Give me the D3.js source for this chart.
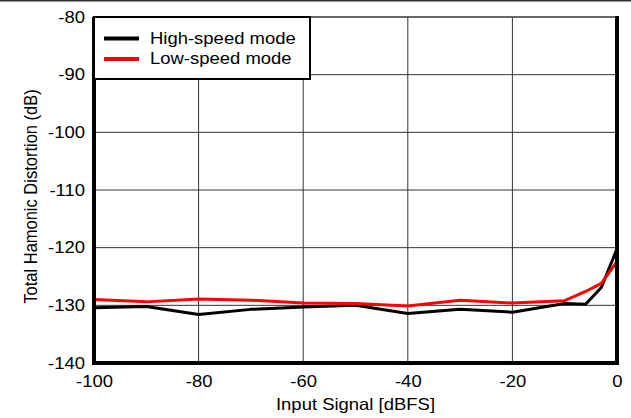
<!DOCTYPE html>
<meta charset="utf-8">
<style>
 body { margin: 0; background: #fff; }
 text { font-family: "Liberation Sans", Arial, sans-serif; fill: #000; }
 .grid line { stroke: #333; stroke-width: 1; }
</style>
<body>
<svg width="631" height="418"></svg>
<script src="https://d3js.org/d3.v7.min.js"></script>
<script>

 var inputLevel = [-100, -90, -80, -70, -60, -50, -40, -30, -20, -10, -6, -3, 0];
 var highSpeed = [-130.4, -130.2, -131.6, -130.7, -130.3, -130.0, -131.4, -130.7, -131.2, -129.7, -129.8, -126.9, -120.2];
 var lowSpeed  = [-129.0, -129.4, -128.9, -129.1, -129.6, -129.7, -130.1, -129.1, -129.6, -129.2, -127.6, -126.2, -122.4];
 var xTicks = [-100, -80, -60, -40, -20, 0];
 var yTicks = [-80, -90, -100, -110, -120, -130, -140];

 var svg = d3.select("svg"),
     margin = {top: 17, right: 14, bottom: 55, left: 94},
     width = 631 - margin.left - margin.right,
     height = 418 - margin.top - margin.bottom;

 var fontSize = 16.5,
     wide = "scale(1.12,1)"; // the original lettering is a bit wider than Arial

 // thin rule across the top of the image
 svg.append("line")
    .attr("x1", 0).attr("x2", 631)
    .attr("y1", 0.5).attr("y2", 0.5)
    .style("stroke", "#333").style("stroke-width", 2);

 var x = d3.scaleLinear().domain([-100, 0]).range([0, width]);
 var y = d3.scaleLinear().domain([-140, -80]).range([height, 0]);

 var g = svg.append("g")
    .attr("transform", "translate(" + margin.left + "," + margin.top + ")");

 // grid
 var grid = g.append("g").attr("class", "grid");
 grid.selectAll(".vx").data(xTicks).enter().append("line")
     .attr("x1", d => x(d)).attr("x2", d => x(d))
     .attr("y1", 0).attr("y2", height);
 grid.selectAll(".hy").data(yTicks).enter().append("line")
     .attr("x1", 0).attr("x2", width)
     .attr("y1", d => y(d)).attr("y2", d => y(d));

 // axes (labels only, frame drawn separately)
 var xAxis = g.append("g")
    .attr("transform", "translate(0," + height + ")")
    .call(d3.axisBottom(x).tickValues(xTicks).tickSize(0).tickPadding(12).tickFormat(d => String(d)));
 xAxis.select(".domain").remove();

 var yAxis = g.append("g")
    .call(d3.axisLeft(y).tickValues(yTicks).tickSize(0).tickPadding(8).tickFormat(d => String(d)));
 yAxis.select(".domain").remove();

 g.selectAll(".tick text")
  .attr("font-family", "Liberation Sans, Arial, sans-serif")
  .attr("font-size", fontSize)
  .attr("fill", "#000")
  .attr("transform", wide);

 // series
 var line = d3.line()
    .x((d, i) => x(inputLevel[i]))
    .y(d => y(d));

 g.append("path").datum(highSpeed)
  .attr("d", line)
  .style("fill", "none").style("stroke", "#000").style("stroke-width", 3)
  .style("stroke-linejoin", "round");
 g.append("path").datum(lowSpeed)
  .attr("d", line)
  .style("fill", "none").style("stroke", "#ff0000").style("stroke-width", 3)
  .style("stroke-linejoin", "round");

 // frame
 g.append("line").attr("x1", 0).attr("x2", width).attr("y1", 0).attr("y2", 0)
  .style("stroke", "#666").style("stroke-width", 2);
 g.append("line").attr("x1", width).attr("x2", width).attr("y1", -1).attr("y2", height + 2)
  .style("stroke", "#000").style("stroke-width", 4);
 g.append("line").attr("x1", 0).attr("x2", width + 2).attr("y1", height).attr("y2", height)
  .style("stroke", "#000").style("stroke-width", 4);
 g.append("line").attr("x1", 0).attr("x2", 0).attr("y1", 0).attr("y2", height + 2)
  .style("stroke", "#000").style("stroke-width", 4);

 // legend
 var series = [{name: "High-speed mode", color: "#000"}, {name: "Low-speed mode", color: "#ff0000"}];
 var legend = g.append("g");
 legend.append("rect")
  .attr("x", 0).attr("y", 0).attr("width", 216).attr("height", 62)
  .style("fill", "#fff").style("stroke", "#000").style("stroke-width", 2);
 series.forEach(function(s, i) {
   var ly = 21.5 + i * 20.5;
   legend.append("line")
    .attr("x1", 10).attr("x2", 45)
    .attr("y1", ly).attr("y2", ly)
    .style("stroke", s.color).style("stroke-width", 4);
   legend.append("text")
    .attr("transform", "translate(56," + (ly + 5) + ") " + wide)
    .style("font-size", fontSize + "px")
    .text(s.name);
 });

 // axis titles
 svg.append("text")
  .attr("transform", "translate(" + (margin.left + width / 2) + ",410) " + wide)
  .attr("text-anchor", "middle").style("font-size", fontSize + "px")
  .text("Input Signal [dBFS]");
 svg.append("text")
  .attr("transform", "translate(37,196.5) " + wide + " rotate(-90)")
  .attr("text-anchor", "middle").style("font-size", fontSize + "px")
  .text("Total Hamonic Distortion (dB)");

</script>
</body>
